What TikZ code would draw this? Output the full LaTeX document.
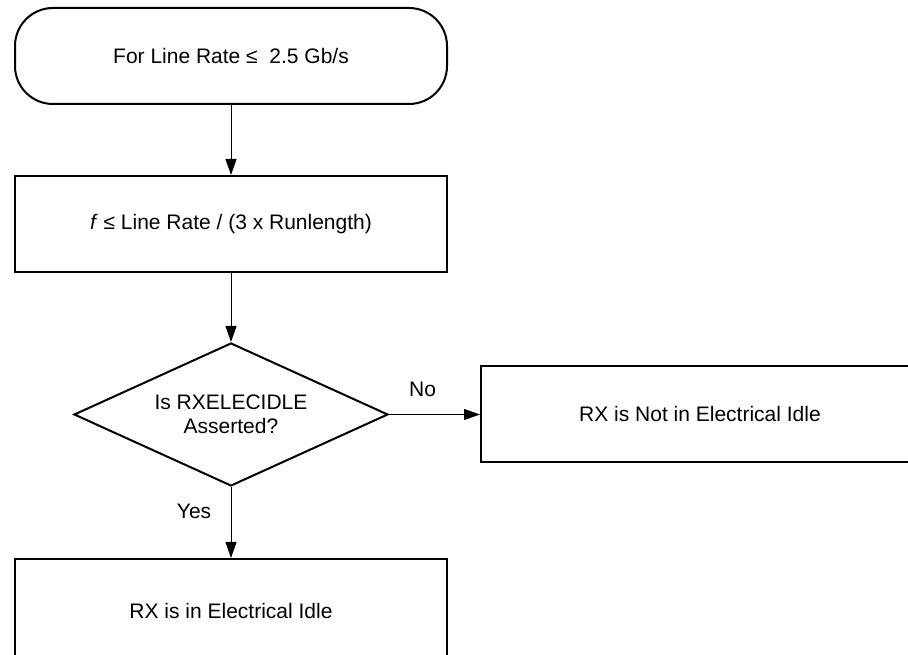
\documentclass[tikz,border=0pt]{standalone}
\usepackage{fontspec}
\setmainfont{Liberation Sans}
\usetikzlibrary{arrows.meta, positioning, shapes.geometric}

\begin{document}
\begin{tikzpicture}[
  x=1pt, y=1pt,
  every node/.style={font=\fontsize{21}{24}\selectfont},
  terminal/.style={rectangle, rounded corners=38pt, draw=black, line width=2pt, minimum width=432pt, minimum height=96pt, inner sep=0pt},
  process/.style={rectangle, draw=black, line width=2pt, minimum width=432pt, minimum height=96pt, inner sep=0pt},
  decision/.style={diamond, aspect=2.2, draw=black, line width=2pt, minimum width=314pt, minimum height=143pt, inner sep=0pt, align=center},
  arrow/.style={-{Triangle[length=16pt, width=11pt]}, line width=1pt, draw=black},
]
\useasboundingbox (0,0) rectangle (908,655);

\node[terminal] (start)   at (231,599)            {For Line Rate ≤\ \ 2.5 Gb/s};
\node[process]  (rate)    [below=70pt of start]   {\textit{f} ≤ Line Rate / (3 x Runlength)};
\node[decision] (elec)    [below=69pt of rate]    {Is RXELECIDLE\\Asserted?};
\node[process]  (notidle) [right=91pt of elec, minimum width=438pt] {RX is Not in Electrical Idle};
\node[process]  (idle)    [below=71pt of elec, minimum height=104pt] {RX is in Electrical Idle};

\draw[arrow] (start) -- (rate);
\draw[arrow] (rate)  -- (elec);
\draw[arrow] (elec)  -- (notidle) node[pos=0.37, above=14pt] (no) {No};
\draw[arrow] (elec)  -- (idle)    node[pos=0.34, left=16pt] (yes) {Yes};
\end{tikzpicture}
\end{document}
